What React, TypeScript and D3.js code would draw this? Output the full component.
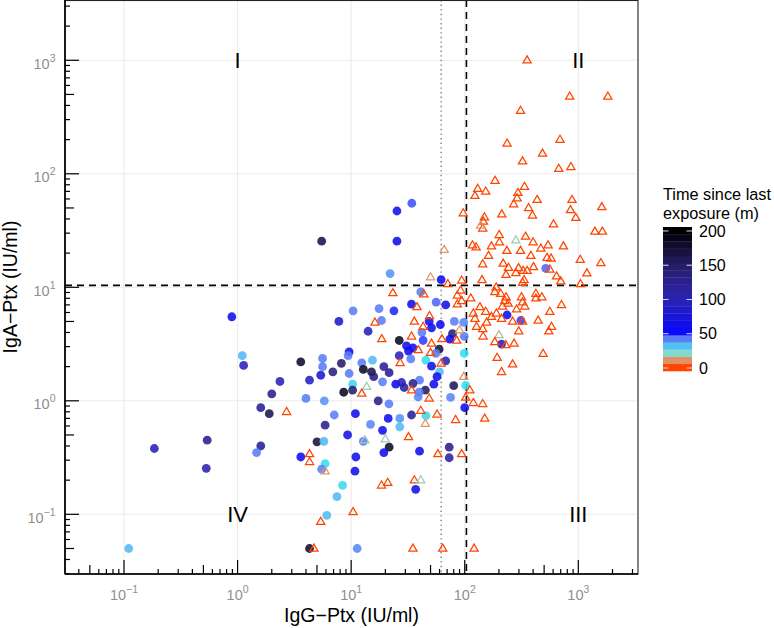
import React from "react";
import * as d3 from "d3";

// ---- data: circles (group A) ----
const circIgG = [0.89,1.1,1.13,3.6,2.36,2.0,1.6,1.9,4.3,4.0,5.4,5.6,5.6,6.9,5.8,7.1,5.9,7.8,10.4,9.6,9.4,8.2,9.6,10.3,8.6,10.3,10.9,41,62,56,68,34,17.6,23.8,18.5,14.1,48.6,51,61,81,98,42,43,78,74,99,26.5,30.7,32,35,26.5,33.5,59.5,55.7,68,99,45.5,15.4,12.4,19.4,21.6,12.8,15.1,15.8,51,60,57,40,18.9,24.7,27.8,29.3,35,53.5,45,39.7,38.9,80,102,75,17.3,21.5,21.2,26.8,34,45.5,14.8,18.9,26.8,100,22,5.5,25.3,34.2,25.3,517,236,312,211,9.3,5.0,5.75,1.6,1.47,3.6,11,5.9,5.5,10.8,8.4,7.5,6.1,4.3,11.3,12.8,21.6,19.4,40,73,73,37,0.54,0.185,0.53,0.11];
const circIgA = [5.5,2.5,2.05,2.2,1.48,1.15,0.87,0.77,1.52,1.05,1.68,2.36,2.0,1.8,1.0,0.75,0.61,5.0,6.2,2.7,2.5,2.14,1.74,1.4,1.19,1.24,0.77,9.1,11.7,7.4,7.0,7.1,6.5,6.2,5.1,4.1,5.0,4.4,4.7,5.0,4.9,4.0,3.4,3.9,3.5,3.7,3.4,3.05,2.74,2.93,2.5,2.34,2.85,2.62,2.25,2.62,2.28,2.28,2.16,2.0,1.77,1.89,1.8,1.63,2.02,1.8,1.63,1.52,1.47,1.4,1.45,1.31,1.42,1.4,1.24,1.19,1.08,1.36,1.37,1.07,1.0,0.94,0.7,0.7,0.75,0.74,0.62,0.55,0.59,0.87,13.2,25.5,47,55,25.5,14.7,5.7,5.1,3.16,0.5,0.435,0.44,0.4,0.35,0.32,0.32,0.28,0.25,0.24,0.18,0.143,0.098,0.05,0.05,0.44,0.39,0.35,0.36,0.39,0.315,0.166,0.45,0.38,0.254,0.05];
const circTime = [60,30,95,185,100,130,120,165,95,40,75,40,40,140,36,40,130,80,40,60,40,150,40,25,190,150,60,40,55,42,65,60,40,48,40,95,60,62,58,40,38,40,46,145,58,40,190,60,62,58,100,40,175,40,95,23,24,30,40,120,125,185,170,135,62,29,60,40,40,55,90,115,125,60,155,40,38,160,23,38,135,40,60,36,120,24,38,60,30,60,36,170,62,44,62,42,58,46,90,65,175,30,120,40,55,62,24,40,60,24,30,30,185,38,40,185,60,62,125,115,60,130,95,105,30];

// ---- data: triangles (group B) ----
const triIgG = [354,840,1820,310,236,690,484,323,673,860,185,130,153,123,294,336,289,270,434,880,1610,853,365,395,950,97,212,149,146,144,138,605,1400,1630,343,201,202,282,400,542,468,740,117,126,172,235,310,162,382,531,576,144,218,1040,1580,66,243,231,298,282,327,354,403,561,1190,643,701,142,333,323,94,50,71,1045,189,23.3,43.6,86,184,207,231,316,423,477,113,92,94,86,38,16.2,36,49,43,18.6,34,63,85,51,39,50,27,62,90,98,13.7,34,48.6,111,102,119,144,41,57,83,45,150,12.4,119,127,144,156,136,153,190,172,123,145,200,184,193,225,215,241,323,338,423,711,561,286,443,264,323,211,299,581,550,272,230,490,264,211,4.3,4.3,5.9,10.4,5.4,4.7,32,20,13.2,58,94,21,18.5,36,41,35,64,121,2.7];
const triIgA = [1000,480,480,360,185,200,151,129,111,115,87,74,70,64,68,77,61,54,59,59,51,48,50,43,41,45,44,41.5,38,33,35,36,31,31,28,29,25,26,25,23.5,22,23,23.5,22.6,23,21,21,19,19,18.2,18,16,16.2,17.5,16.4,21.4,14.9,12.9,14.8,13.4,14,14,15.1,14.4,13.3,12.5,11.3,11.6,11.6,11,11.5,12.3,10.7,10.7,10,8.9,8.7,8.5,9.1,8.8,8.2,8.2,8.8,8.2,8.0,9.4,7.6,7.1,6.7,4.9,5.0,5.6,4.5,3.5,3.7,3.5,3.4,3.2,2.8,2.65,2.16,2.14,4.2,1.63,1.33,1.24,1.05,1.24,1.07,0.96,0.94,0.82,0.76,0.68,0.63,0.7,1.16,5.9,4.5,4.3,4.9,6.7,6.1,5.9,5.5,5.3,3.7,3.8,3.3,2.4,7.6,6.8,7.2,7.4,6.8,8.0,7.0,6.1,6.4,5.1,5.0,5.0,5.3,4.1,4.5,4.1,3.2,3.1,2.6,2.1,1.8,0.34,0.29,0.24,0.105,0.086,0.05,0.48,0.46,0.45,0.34,0.34,0.19,0.18,0.2,0.2,0.05,0.05,0.05,0.8];
const triTime = [0,0,0,0,0,0,0,0,0,0,0,0,0,0,0,0,0,0,0,0,0,0,0,0,0,0,0,0,0,0,7,0,0,0,0,0,0,15,0,0,0,0,0,0,0,0,0,0,0,0,0,0,0,0,0,7,0,0,0,0,0,0,0,0,0,0,0,0,0,0,0,7,0,0,0,0,0,0,0,0,0,0,0,0,0,0,0,0,0,0,0,0,0,0,0,0,0,0,0,0,0,0,7,7,15,0,0,0,0,0,0,0,0,0,7,0,0,0,0,0,0,0,0,0,0,0,0,12,0,0,0,0,0,0,0,0,0,0,0,0,0,0,0,0,0,0,0,0,0,0,0,0,0,7,0,0,0,0,15,15,0,0,0,0,0,15,0,0,0,0,0,0];

const xTicks = [0.1, 1, 10, 100, 1000];
const yTicks = [0.1, 1, 10, 100, 1000];
const tickExp = ["\u22121", "0", "1", "2", "3"];
const legendTicks = [0, 50, 100, 150, 200];
const quadrantLabels = ["I", "II", "III", "IV"];
const quadrantX = [1, 1000, 1000, 1];
const quadrantY = [1000, 1000, 0.1, 0.1];
const iggCut = 103.5;
const igaCut = 10.4;
const iggDotted = 62;

const timeStops = [-5, 2, 7, 17, 23, 29, 40, 51, 100, 150, 206];
const timeColors = ["#FF4500","#FF4500","#E0956B","#8CD9C6","#35DFEE","#52C0F3","#5B7DF6","#0A0AF8","#2B22B4","#271E6C","#000000"];

const FONT = "'Liberation Sans', Arial, Helvetica, sans-serif";

export default function App() {
  const L = 65, R = 638, T = 0, B = 574;
  const x = d3.scaleLog().domain([0.03023, 3354]).range([L, R]);
  const y = d3.scaleLog().domain([0.0298, 3396]).range([B, T]);
  const col = d3.scaleLinear<string>().domain(timeStops).range(timeColors).interpolate(d3.interpolateRgb).clamp(true);

  // log ticks
  const logTicks: { v: number; kind: number }[] = [];
  for (let e = -2; e <= 3; e++) {
    for (let m = 1; m <= 9; m++) {
      const v = m * Math.pow(10, e);
      logTicks.push({ v, kind: m === 1 ? 0 : m === 5 ? 1 : 2 });
    }
  }
  const tickLen = [14, 9, 5];

  const circles = circIgG.map((g, i) => ({ g, a: circIgA[i], t: circTime[i] }));
  const tris = triIgG.map((g, i) => ({ g, a: triIgA[i], t: triTime[i] }));

  // colorbar
  const cbLo = -4.4, cbHi = 205.8, nbin = 20;
  const cbTop = 227, cbBot = 371, cbX = 663, cbW = 29;
  const cbY = d3.scaleLinear().domain([cbLo, cbHi]).range([cbBot, cbTop]);
  const cellH = (cbBot - cbTop) / nbin;
  const cells = d3.range(nbin).map((k) => ({
    v: cbLo + (k * (cbHi - cbLo)) / (nbin - 1),
    y0: cbBot - (k + 1) * cellH,
  }));

  const triPath = "M0,-4.4L4.1,2.7L-4.1,2.7Z";

  return (
    <svg width={774} height={628} style={{ position: "absolute", left: 0, top: 0, display: "block", background: "#fff" }} fontFamily={FONT}>
      <rect x={0} y={0} width={774} height={628} fill="#fff" />
      {/* gridlines */}
      {xTicks.map((v) => (
        <line key={"gx" + v} x1={x(v)} x2={x(v)} y1={T} y2={B} stroke="#ebebeb" strokeWidth={1.1} />
      ))}
      {yTicks.map((v) => (
        <line key={"gy" + v} x1={L} x2={R} y1={y(v)} y2={y(v)} stroke="#ebebeb" strokeWidth={1.1} />
      ))}
      {/* reference lines */}
      <line x1={x(iggDotted)} x2={x(iggDotted)} y1={T} y2={B} stroke="#808080" strokeWidth={1.4} strokeDasharray="1.4,3.2" />
      <line x1={x(iggCut)} x2={x(iggCut)} y1={T} y2={B} stroke="#000" strokeWidth={1.6} strokeDasharray="7,5" />
      <line x1={L} x2={R} y1={y(igaCut)} y2={y(igaCut)} stroke="#000" strokeWidth={1.6} strokeDasharray="7,5" />
      {/* points */}
      {circles.map((d, i) => (
        <circle key={"c" + i} cx={x(d.g)} cy={y(d.a)} r={4.4} fill={col(d.t)} fillOpacity={0.88} />
      ))}
      {tris.map((d, i) => (
        <path key={"t" + i} d={triPath} transform={`translate(${x(d.g)},${y(d.a)})`} fill="none" stroke={col(d.t)} strokeWidth={1.25} />
      ))}
      {/* quadrant labels */}
      {quadrantLabels.map((s, i) => (
        <text key={s} x={x(quadrantX[i])} y={y(quadrantY[i])} dy="0.36em" textAnchor="middle" fontSize={22} fill="#000">{s}</text>
      ))}
      {/* panel border */}
      <rect x={L} y={T + 0.5} width={R - L} height={B - T - 0.5} fill="none" stroke="#222" strokeWidth={1.1} />
      <line x1={L} x2={L} y1={T} y2={B} stroke="#000" strokeWidth={1.6} />
      <line x1={L} x2={R} y1={B} y2={B} stroke="#000" strokeWidth={1.6} />
      {/* log ticks */}
      {logTicks.filter((t) => x(t.v) >= L && x(t.v) <= R).map((t, i) => (
        <line key={"lx" + i} x1={x(t.v)} x2={x(t.v)} y1={B} y2={B - tickLen[t.kind]} stroke="#000" strokeWidth={1.2} />
      ))}
      {logTicks.filter((t) => y(t.v) >= T && y(t.v) <= B).map((t, i) => (
        <line key={"ly" + i} x1={L} x2={L + tickLen[t.kind]} y1={y(t.v)} y2={y(t.v)} stroke="#000" strokeWidth={1.2} />
      ))}
      {/* tick labels */}
      {xTicks.map((v, i) => (
        <text key={"xl" + v} x={x(v)} y={600} textAnchor="middle" fill="#8f8f8f" fontSize={14.5}>
          <tspan>10</tspan>
          <tspan dy={-7} fontSize={10.5}>{tickExp[i]}</tspan>
        </text>
      ))}
      {yTicks.map((v, i) => (
        <text key={"yl" + v} x={55.5} y={y(v) + 8.5} textAnchor="end" fill="#8f8f8f" fontSize={14.5}>
          <tspan>10</tspan>
          <tspan dy={-7} fontSize={10.5}>{tickExp[i]}</tspan>
        </text>
      ))}
      {/* axis titles */}
      <text x={(L + R) / 2} y={622} textAnchor="middle" fontSize={19.5} fill="#000">IgG{"\u2212"}Ptx (IU/ml)</text>
      <text transform={`translate(16.5,${(T + B) / 2}) rotate(-90)`} textAnchor="middle" fontSize={19.5} fill="#000">IgA{"\u2212"}Ptx (IU/ml)</text>
      {/* legend */}
      <text x={663} y={200} fontSize={16.3} fill="#000">Time since last</text>
      <text x={663} y={218.5} fontSize={16.3} fill="#000">exposure (m)</text>
      {cells.map((c, k) => (
        <rect key={"cb" + k} x={cbX} y={c.y0} width={cbW} height={cellH + 0.3} fill={col(c.v)} />
      ))}
      {legendTicks.map((v) => (
        <g key={"lt" + v}>
          <line x1={cbX} x2={cbX + 5.5} y1={cbY(v)} y2={cbY(v)} stroke="#ddd" strokeWidth={1} />
          <line x1={cbX + cbW - 5.5} x2={cbX + cbW} y1={cbY(v)} y2={cbY(v)} stroke="#ddd" strokeWidth={1} />
          <text x={699} y={cbY(v)} dy="0.36em" fontSize={16} fill="#000">{v}</text>
        </g>
      ))}
    </svg>
  );
}
